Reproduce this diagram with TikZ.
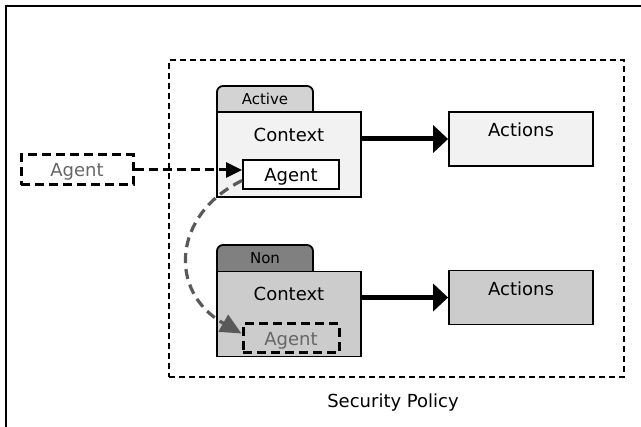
\documentclass[tikz,border=0pt]{standalone}
\usepackage{fontspec}
\setmainfont{DejaVu Sans}
\usetikzlibrary{arrows.meta,positioning,calc}
\definecolor{paleFill}{HTML}{F2F2F2}
\definecolor{tabLight}{HTML}{D3D3D3}
\definecolor{tabDark}{HTML}{808080}
\definecolor{greyFill}{HTML}{CCCCCC}
\definecolor{agentText}{HTML}{666666}
\definecolor{moveGrey}{HTML}{595959}

\begin{document}
\begin{tikzpicture}[x=1pt, y=-1pt,
    box/.style={rectangle, draw, line width=1.8pt, font=\fontsize{18}{20}\selectfont},
    ctxbox/.style={box, minimum width=144pt, minimum height=85pt},
    actbox/.style={box, minimum width=144pt, minimum height=54pt},
    agentbox/.style={box, fill=white, minimum width=96pt, minimum height=29pt, inner sep=0pt, text depth=0pt},
    ghostbox/.style={agentbox, fill=none, dash pattern=on 9pt off 5pt, line width=3pt, text=agentText},
    lbl/.style={font=\fontsize{18}{20}\selectfont, inner sep=0pt},
    tablbl/.style={font=\fontsize{15}{17}\selectfont, inner sep=0pt},
    tabshape/.style={draw, line width=1.8pt, rounded corners=6pt},
    flowarrow/.style={line width=5pt, -{Triangle[length=15pt,width=27pt]}},
    enterarrow/.style={line width=3pt, dash pattern=on 9pt off 5pt, -{Triangle[length=16pt,width=15pt]}},
    movearrow/.style={moveGrey, line width=3.2pt, dash pattern=on 10pt off 6pt, -{Triangle[length=21pt,width=19pt]}}]
    \useasboundingbox (0,0) rectangle (641,427);
    % frame and policy
    \draw[line width=1.8pt] (6,427) -- (6,6) -- (641,6);
    \node[draw, dash pattern=on 6pt off 4pt, line width=2.2pt, minimum width=455pt, minimum height=317pt] (policy) at (396.5,218.5) {};
    \node[lbl] (policytxt) at (393,403) {Security Policy};

    % active context
    \draw[tabshape, fill=tabLight] (217,112) -- (217,86) -- (313,86) -- (313,112);
    \node[tablbl] (tabA) at (265,99) {Active};
    \node[ctxbox, fill=paleFill] (ctxA) at (289,154.5) {};
    \node[lbl] (ctxAtxt) at (289,134.5) {Context};
    \node[agentbox] (agA) at (291,174.5) {Agent};
    \node[actbox, fill=paleFill] (actA) at (521,139) {};
    \node[lbl] (actAtxt) at (521,129.3) {Actions};

    % non context
    \draw[tabshape, fill=tabDark] (217,271) -- (217,245) -- (313,245) -- (313,271);
    \node[tablbl] (tabB) at (265,258) {Non};
    \node[ctxbox, fill=greyFill] (ctxB) at (289,314) {};
    \node[lbl] (ctxBtxt) at (289,293.5) {Context};
    \node[ghostbox] (agD) at (291,338.5) {Agent};
    \node[actbox, fill=greyFill] (actB) at (521,297.5) {};
    \node[lbl] (actBtxt) at (521,288.3) {Actions};

    % outside agent
    \node[ghostbox, minimum width=112pt, minimum height=30pt] (agL) at (77,170) {Agent};

    % connectors
    \draw[enterarrow] (agL) -- (agL -| agA.west);
    \draw[flowarrow] (ctxA.east |- actA) -- (actA);
    \draw[flowarrow] (ctxB.east |- actB) -- (actB);
    \draw[movearrow] ([yshift=-6pt]agA.west) .. controls (172,215) and (168,292) .. ([yshift=5pt]agD.west);
\end{tikzpicture}
\end{document}
